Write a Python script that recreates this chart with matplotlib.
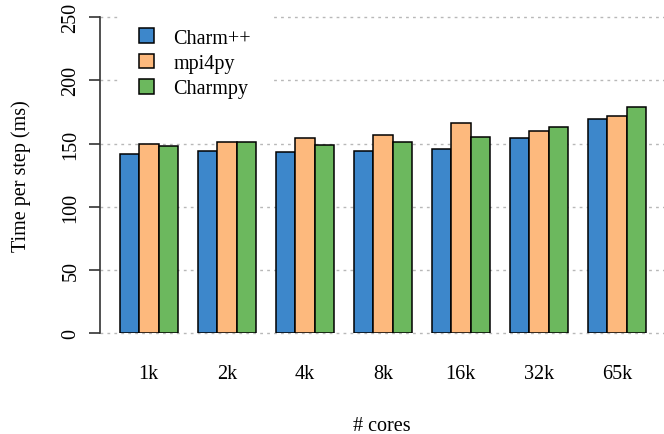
import numpy as np
import matplotlib.pyplot as plt

plt.rcParams['font.family'] = ['Liberation Serif', 'DejaVu Serif']

# Datos: tiempo por paso (ms) según número de cores
cores = ['1k', '2k', '4k', '8k', '16k', '32k', '65k']
charmxx = [142, 144, 143, 144, 146, 154, 169]
mpi4py = [150, 151, 154, 157, 166, 160, 172]
charmpy = [148, 151, 149, 151, 155, 163, 179]

series = [('Charm++', charmxx, '#3d87cb'),
          ('mpi4py', mpi4py, '#fdb97d'),
          ('Charmpy', charmpy, '#6cb85e')]

fs = 14.5

fig = plt.figure(figsize=(6.64, 4.35), dpi=100)
ax = fig.add_axes([100/664, (435-334.3)/435, 564/664, (334.3-18)/435])

# Barras agrupadas: ancho 1, hueco de 1 entre grupos
grupos = np.arange(len(cores)) * 4
for j, (nombre, vals, color) in enumerate(series):
    ax.bar(grupos + 1 + j, vals, width=1, align='edge', color=color,
           edgecolor='black', linewidth=1.1, label=nombre, zorder=3)

ax.set_xlim(0, 564/19.5)
ax.set_ylim(0, 250)
ax.set_yticks(np.arange(0, 251, 50))
ax.set_xticks(grupos + 2.5)
ax.set_xticklabels(cores)

for y in np.arange(0, 251, 50):
    ax.axhline(y, color='#b8b8b8', linestyle=(0, (2, 3)), linewidth=1.0,
               zorder=1, clip_on=False)

for s in ['top', 'right', 'bottom']:
    ax.spines[s].set_visible(False)
ax.spines['left'].set_linewidth(1.2)
ax.spines['left'].set_color('#333333')

ax.tick_params(axis='y', length=8, width=1.2, color='#333333', pad=6,
               labelsize=fs)
ax.tick_params(axis='x', length=0, pad=22, labelsize=fs)
for lab in ax.get_yticklabels():
    lab.set_rotation(90)
    lab.set_va('center')

ax.set_ylabel('Time per step (ms)', fontsize=fs, labelpad=22)
ax.set_xlabel('# cores', fontsize=fs, labelpad=24)

leg = ax.legend(loc='upper left', bbox_to_anchor=(120/664, 1 - 10/435),
                bbox_transform=fig.transFigure, borderaxespad=0,
                fontsize=fs, frameon=True, fancybox=False, framealpha=1,
                facecolor='white', edgecolor='none', handlelength=0.75,
                handleheight=0.75, handletextpad=0.95, labelspacing=0.3,
                borderpad=0.95)
leg.set_zorder(5)

fig.savefig('out.png', dpi=100)
